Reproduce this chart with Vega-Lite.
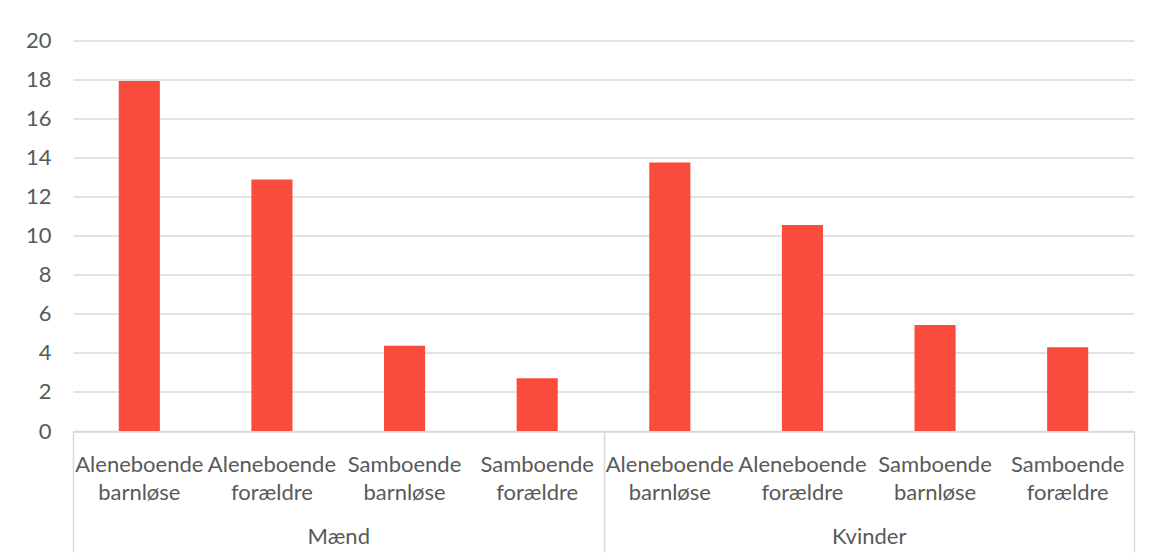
{
  "$schema": "https://vega.github.io/schema/vega-lite/v6.json",
  "width": 1061,
  "height": 390.5,
  "autosize": {"type": "none"},
  "padding": {"left": 73, "top": 40.5, "right": 15, "bottom": 129},
  "background": "white",
  "data": {
    "values": [
      {"gruppe": "Mænd", "kategori": "Aleneboende barnløse", "pct": 17.92},
      {"gruppe": "Mænd", "kategori": "Aleneboende forældre", "pct": 12.88},
      {"gruppe": "Mænd", "kategori": "Samboende barnløse", "pct": 4.36},
      {"gruppe": "Mænd", "kategori": "Samboende forældre", "pct": 2.7},
      {"gruppe": "Kvinder", "kategori": "Aleneboende barnløse", "pct": 13.75},
      {"gruppe": "Kvinder", "kategori": "Aleneboende forældre", "pct": 10.55},
      {"gruppe": "Kvinder", "kategori": "Samboende barnløse", "pct": 5.43},
      {"gruppe": "Kvinder", "kategori": "Samboende forældre", "pct": 4.29}
    ]
  },
  "encoding": {
    "x": {
      "field": "gruppe",
      "type": "nominal",
      "sort": ["Mænd", "Kvinder"],
      "scale": {"paddingInner": 0, "paddingOuter": 0},
      "axis": {
        "title": null,
        "labelAngle": 0,
        "tickBand": "extent",
        "tickSize": 121,
        "tickColor": "#d9d9d9",
        "tickWidth": 1.5,
        "domainColor": "#d9d9d9",
        "domainWidth": 1.5,
        "labelPadding": -26,
        "labelFont": "Lato",
        "labelFontSize": 22,
        "labelColor": "#595959",
        "grid": false
      }
    },
    "xOffset": {
      "field": "kategori",
      "type": "nominal",
      "sort": ["Aleneboende barnløse", "Aleneboende forældre", "Samboende barnløse", "Samboende forældre"],
      "scale": {"paddingInner": 0.69, "paddingOuter": 0.345}
    },
    "y": {
      "field": "pct",
      "type": "quantitative",
      "scale": {"domain": [0, 20], "nice": false},
      "axis": {
        "title": null,
        "values": [0, 2, 4, 6, 8, 10, 12, 14, 16, 18, 20],
        "labelOverlap": false,
        "domain": false,
        "ticks": false,
        "labelPadding": 22,
        "labelFont": "Lato",
        "labelFontSize": 22,
        "labelColor": "#595959",
        "gridColor": "#d9d9d9",
        "gridWidth": 1.5
      }
    }
  },
  "layer": [
    {
      "mark": {"type": "bar", "color": "#F94C3D"}
    },
    {
      "mark": {
        "type": "text",
        "baseline": "alphabetic",
        "dy": 41,
        "lineBreak": " ",
        "lineHeight": 28,
        "font": "Lato",
        "fontSize": 22,
        "color": "#595959"
      },
      "encoding": {
        "y": {"datum": 0},
        "text": {"field": "kategori"}
      }
    }
  ],
  "config": {"view": {"stroke": null}, "axisY": {"labelOverlap": false}, "axis": {"labelOverlap": false}}
}
